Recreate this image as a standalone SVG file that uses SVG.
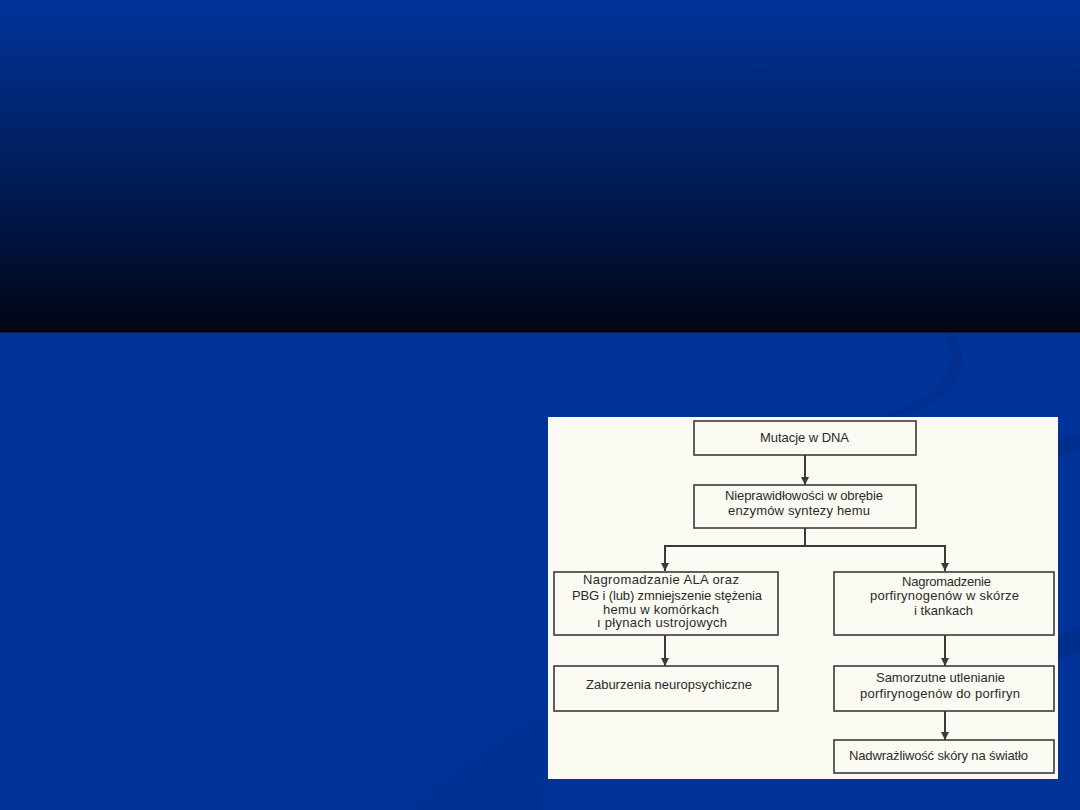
<svg xmlns="http://www.w3.org/2000/svg" width="1080" height="810" viewBox="0 0 1080 810">
  <defs>
    <linearGradient id="topg" x1="0" y1="0" x2="0" y2="1">
      <stop offset="0" stop-color="#00349c"/>
      <stop offset="0.5" stop-color="#001e5c"/>
      <stop offset="1" stop-color="#000514"/>
    </linearGradient>
    <marker id="ah" viewBox="0 0 10 10" refX="10" refY="5" markerWidth="8" markerHeight="9" markerUnits="userSpaceOnUse" orient="auto">
      <path d="M0,0 L10,5 L0,10 Z" fill="#3a3a3a"/>
    </marker>
    <style>
      .box { fill: none; stroke: #3a3a3a; stroke-width: 1.6; }
      .t { font-family: "Liberation Sans", Arial, sans-serif; font-size: 13px; fill: #2a2a2a; }
      .c { stroke: #3a3a3a; stroke-width: 2; fill: none; }
      .sw { fill: #002d8a; }
    </style>
  </defs>

  <!-- background -->
  <rect x="0" y="0" width="1080" height="810" fill="#003399"/>
  <path class="sw" d="M946,333 L952,333 C972,365 970,400 885,418 L870,420 C940,400 962,370 946,333 Z" opacity="0.7"/>
  <path class="sw" d="M1058,440 L1080,433 L1080,448 L1058,456 Z" opacity="0.8"/>
  <path class="sw" d="M1058,636 L1080,627 L1080,652 L1058,661 Z" opacity="0.8"/>
  <path class="sw" d="M548,712 C500,735 450,770 410,810 L548,810 Z" opacity="0.25"/>
  <rect x="0" y="0" width="1080" height="333" fill="url(#topg)"/>
  <line x1="0" y1="333" x2="1080" y2="333" stroke="#2a3a6a" stroke-width="0.8"/>

  <!-- scanned figure area -->
  <rect x="548" y="417" width="510" height="362" fill="#fbfbf3"/>

  <g id="connectors">
    <line class="c" x1="805" y1="455" x2="805" y2="485" marker-end="url(#ah)"/>
    <polyline class="c" points="805,528 805,546"/>
    <polyline class="c" points="665,571 665,546 945,546 945,571" marker-end="url(#ah)"/>
    <line class="c" x1="665" y1="554" x2="665" y2="571" marker-end="url(#ah)"/>
    <line class="c" x1="665" y1="635" x2="665" y2="666" marker-end="url(#ah)"/>
    <line class="c" x1="945" y1="635" x2="945" y2="666" marker-end="url(#ah)"/>
    <line class="c" x1="945" y1="711" x2="945" y2="740" marker-end="url(#ah)"/>
  </g>

  <g id="n1">
    <rect class="box" x="694" y="421" width="222" height="34"/>
    <text class="t" x="760" y="442" textLength="89" lengthAdjust="spacing">Mutacje w DNA</text>
  </g>
  <g id="n2">
    <rect class="box" x="694" y="485" width="222" height="43"/>
    <text class="t" x="725" y="500" textLength="158" lengthAdjust="spacing">Nieprawidłowości w obrębie</text>
    <text class="t" x="728" y="515" textLength="142" lengthAdjust="spacing">enzymów syntezy hemu</text>
  </g>
  <g id="n3">
    <rect class="box" x="554" y="572" width="224" height="63"/>
    <text class="t" x="583" y="584" textLength="156" lengthAdjust="spacing">Nagromadzanie ALA oraz</text>
    <text class="t" x="572" y="600" textLength="190" lengthAdjust="spacing">PBG i (lub) zmniejszenie stężenia</text>
    <text class="t" x="603" y="614" textLength="116" lengthAdjust="spacing">hemu w komórkach</text>
    <text class="t" x="597" y="627" textLength="130" lengthAdjust="spacing">ı płynach ustrojowych</text>
  </g>
  <g id="n4">
    <rect class="box" x="834" y="572" width="220" height="63"/>
    <text class="t" x="902" y="586" textLength="89" lengthAdjust="spacing">Nagromadzenie</text>
    <text class="t" x="870" y="600" textLength="149" lengthAdjust="spacing">porfirynogenów w skórze</text>
    <text class="t" x="914" y="615" textLength="59" lengthAdjust="spacing">i tkankach</text>
  </g>
  <g id="n5">
    <rect class="box" x="554" y="666" width="224" height="45"/>
    <text class="t" x="586" y="689" textLength="166" lengthAdjust="spacing">Zaburzenia neuropsychiczne</text>
  </g>
  <g id="n6">
    <rect class="box" x="834" y="666" width="220" height="45"/>
    <text class="t" x="876" y="682" textLength="129" lengthAdjust="spacing">Samorzutne utlenianie</text>
    <text class="t" x="860" y="698" textLength="160" lengthAdjust="spacing">porfirynogenów do porfiryn</text>
  </g>
  <g id="n7">
    <rect class="box" x="834" y="740" width="220" height="33"/>
    <text class="t" x="849" y="760" textLength="179" lengthAdjust="spacing">Nadwrażliwość skóry na światło</text>
  </g>
</svg>
